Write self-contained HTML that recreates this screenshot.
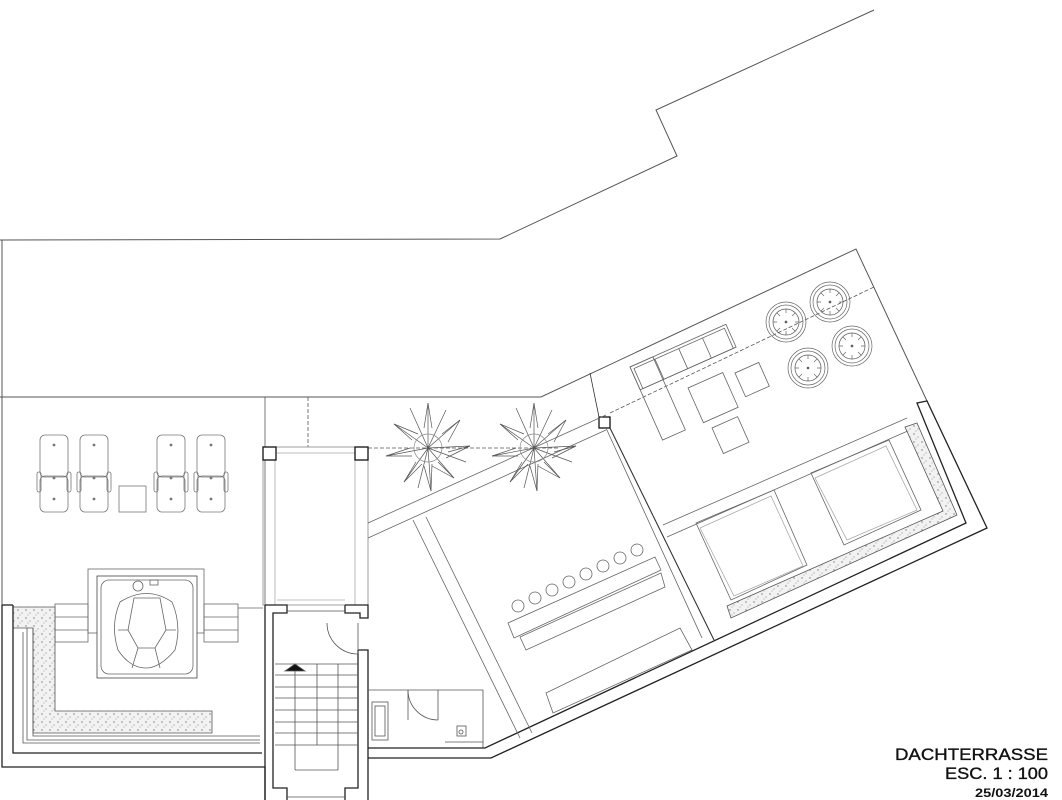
<!DOCTYPE html>
<html><head><meta charset="utf-8"><style>
html,body{margin:0;padding:0;background:#fff;width:1062px;height:800px;overflow:hidden}
svg{display:block}
text{font-family:"Liberation Sans",Arial,sans-serif;fill:#111}
</style></head><body>
<svg width="1062" height="800" viewBox="0 0 1062 800" xmlns="http://www.w3.org/2000/svg">
<defs>
<pattern id="grav" width="8" height="8" patternUnits="userSpaceOnUse">
<rect width="8" height="8" fill="#f2f2f2"/>
<circle cx="2" cy="2" r="0.7" fill="#777"/><circle cx="6" cy="5" r="0.6" fill="#999"/><circle cx="4" cy="7" r="0.5" fill="#888"/>
</pattern>
<g id="palm" stroke="#555" stroke-width="0.7" fill="none">
<path d="M0,0 L0,-45 M0,0 L32,-28 M0,0 L42,-2 M0,0 L26,30 M0,0 L3,43 M0,0 L-24,34 M0,0 L-42,8 M0,0 L-34,-24 M0,0 L-18,-40 M0,0 L18,-38 M0,0 L38,14 M0,0 L-10,40"/>
<path d="M-4,-20 L0,-45 L4,-20 M14,-14 L32,-28 L20,-6 M20,4 L42,-2 L18,10 M10,14 L26,30 L4,18 M-4,18 L3,43 L4,16 M-12,14 L-24,34 L-6,16 M-18,0 L-42,8 L-16,8 M-16,-8 L-34,-24 L-10,-14"/>
<circle r="14" stroke="#888"/>
</g>
<g id="plan" fill="none" stroke="#666" stroke-width="0.7">
<circle r="20"/><circle r="17"/><circle r="13" stroke="#555"/>
<path d="M0,-13 L0,-9 M9,-9 L6,-6 M13,0 L9,0 M9,9 L6,6 M0,13 L0,9 M-9,9 L-6,6 M-13,0 L-9,0 M-9,-9 L-6,-6"/>
<circle r="1" fill="#555"/>
</g>
<g id="lounger" fill="none" stroke="#777" stroke-width="0.8">
<rect x="0" y="0" width="28" height="42" rx="5"/>
<rect x="0" y="41" width="28" height="36" rx="5"/>
<rect x="-3" y="37" width="4" height="20" rx="2"/>
<rect x="27" y="37" width="4" height="20" rx="2"/>
<circle cx="14" cy="10" r="1" fill="#777"/><circle cx="14" cy="43" r="1" fill="#777"/><circle cx="14" cy="64" r="1" fill="#777"/>
</g>
</defs>

<g fill="none" stroke="#555" stroke-width="1">
<polyline points="0,240 500,239 677,156 656,110 874,10"/>
<polyline points="2,240 2,605"/>
<polyline points="0,397 541,397 856,249 927,401"/>
</g>

<g fill="none" stroke="#555" stroke-width="0.8">
<line x1="265" y1="397" x2="265" y2="605"/>
<line x1="308" y1="397" x2="308" y2="447" stroke-dasharray="4,2"/>
<line x1="368" y1="448" x2="560" y2="448" stroke-dasharray="4,2"/>
<line x1="610" y1="413" x2="874" y2="287" stroke-dasharray="4,2"/>
<rect x="263" y="447" width="105" height="158" stroke="#888"/>
<line x1="275" y1="460" x2="275" y2="605" stroke="#aaa"/>
<line x1="355" y1="460" x2="355" y2="605" stroke="#aaa"/>
<line x1="277" y1="453" x2="355" y2="453" stroke="#aaa"/>
<line x1="277" y1="600" x2="345" y2="600" stroke="#aaa"/>
</g>
<g fill="#fff" stroke="#111" stroke-width="1.3">
<rect x="263" y="447" width="13" height="13"/><rect x="355" y="447" width="13" height="13"/>
<rect x="599" y="417" width="11" height="11"/>
</g>

<use href="#lounger" x="40" y="435"/><use href="#lounger" x="80" y="435"/>
<use href="#lounger" x="157" y="435"/><use href="#lounger" x="197" y="435"/>
<rect x="119" y="486" width="27" height="26" fill="none" stroke="#777" stroke-width="0.8"/>

<g fill="none" stroke="#666" stroke-width="0.8">
<rect x="88" y="569" width="116" height="64"/>
<rect x="55" y="604" width="33" height="38"/><line x1="55" y1="617" x2="88" y2="617"/><line x1="55" y1="630" x2="88" y2="630"/>
<rect x="204" y="604" width="34" height="38"/><line x1="204" y1="617" x2="238" y2="617"/><line x1="204" y1="630" x2="238" y2="630"/>
<line x1="238" y1="608" x2="263" y2="608"/>
<rect x="97" y="576" width="100" height="102" fill="#fff" stroke="#444"/>
<rect x="101" y="580" width="92" height="94" rx="8"/>
<path d="M120,602 Q147,585 172,602 Q182,625 175,650 Q160,668 146,668 Q130,668 118,650 Q110,625 120,602Z"/>
<path d="M134,598 L160,598 L166,630 L155,648 L138,648 L128,630Z"/>
<path d="M118,630 L128,630 M166,630 L176,630 M138,648 L132,668 M155,648 L160,668"/>
<circle cx="138" cy="586" r="5"/><rect x="150" y="580" width="8" height="5"/>
</g>

<polygon points="13,607 55,607 55,711 212,711 212,733 33,733 33,628 13,628" fill="url(#grav)" stroke="#555" stroke-width="0.8"/>
<g fill="none" stroke="#222" stroke-width="1.3">
<polyline points="2,605 2,767 265,767 265,800"/>
<polyline points="13,605 13,753 262,753"/>
<line x1="2" y1="605" x2="13" y2="605"/>
</g>
<g fill="none" stroke="#555" stroke-width="0.8">
<polyline points="23,632 23,743 260,743"/>
<polyline points="27,628 27,740 260,740"/>
<polyline points="33,628 33,736 260,736"/>
</g>

<g fill="none" stroke="#222" stroke-width="1.3">
<polyline points="265,605 287,605 287,613 273,613 273,788 287,788 287,800"/>
<polyline points="265,800 265,605"/>
<polyline points="345,605 368,605 368,618 360,618 360,613 345,613 345,605"/>
<polyline points="358,650 368,650 368,800"/>
<polyline points="358,650 358,788 345,788 345,800"/>
</g>
<g fill="none" stroke="#555" stroke-width="0.8">
<line x1="287" y1="611" x2="345" y2="611"/>
<path d="M327,623 A31,31 0 0 0 358,654"/><line x1="358" y1="623" x2="358" y2="654"/>
<line x1="275" y1="664" x2="358" y2="664"/>
<line x1="275" y1="675" x2="358" y2="675"/><line x1="275" y1="687" x2="358" y2="687"/>
<line x1="275" y1="698" x2="358" y2="698"/><line x1="275" y1="710" x2="358" y2="710"/>
<line x1="275" y1="722" x2="358" y2="722"/><line x1="275" y1="733" x2="358" y2="733"/>
<line x1="275" y1="745" x2="358" y2="745"/>
<line x1="295" y1="664" x2="295" y2="770"/><line x1="317" y1="664" x2="317" y2="745"/>
<line x1="338" y1="664" x2="338" y2="770"/><line x1="295" y1="770" x2="338" y2="770"/>
<line x1="287" y1="797" x2="345" y2="797"/>
<polygon points="285,671 295,664 305,671" fill="#111"/>
</g>

<g fill="none" stroke="#555" stroke-width="0.8">
<polyline points="368,690 483,690 483,748"/>
<rect x="372" y="702" width="16" height="38"/><rect x="375" y="706" width="10" height="30"/>
<line x1="408" y1="690" x2="408" y2="720"/>
<path d="M408,690 A30,30 0 0 0 438,720"/><line x1="438" y1="690" x2="438" y2="720"/>
<rect x="457" y="726" width="9" height="10"/><circle cx="461" cy="732" r="2"/>
<line x1="445" y1="742" x2="483" y2="742"/>
</g>
<g fill="none" stroke="#222" stroke-width="1.3">
<polyline points="368,748 485,748 966,523 917,403 927,401 987,528 491,758 368,758"/>
</g>

<g fill="none" stroke="#666" stroke-width="0.8">
<line x1="368" y1="523" x2="606" y2="415"/>
<line x1="368" y1="538" x2="606" y2="430"/>
<line x1="663" y1="525" x2="907" y2="418"/>
<line x1="667" y1="537" x2="910" y2="430"/>
<line x1="413" y1="520" x2="520" y2="738"/>
<line x1="426" y1="517" x2="532" y2="733"/>
<line x1="606" y1="428" x2="702" y2="638"/>
<line x1="590" y1="373" x2="599" y2="417" stroke="#333"/>
<line x1="610" y1="428" x2="714" y2="640" stroke="#333" stroke-width="1.1"/>
</g>

<use href="#palm" x="428" y="448"/><use href="#palm" x="534" y="448"/>

<polygon points="905,427 917,423 957,515 731,618 727,606 943,511" fill="url(#grav)" stroke="#555" stroke-width="0.8"/>

<g fill="none" stroke="#666" stroke-width="0.8">
<g transform="translate(630,367) rotate(-24)">
<rect x="0" y="0" width="105" height="25"/>
<rect x="3" y="3" width="99" height="22"/>
<line x1="26" y1="3" x2="26" y2="25"/><line x1="52" y1="3" x2="52" y2="25"/><line x1="78" y1="3" x2="78" y2="25"/>
<rect x="0" y="0" width="25" height="80"/>
</g>
<g transform="translate(688,388) rotate(-24)"><rect width="38" height="38"/></g>
<g transform="translate(735,373) rotate(-24)"><rect width="26" height="26"/></g>
<g transform="translate(712,428) rotate(-24)"><rect width="28" height="28"/></g>
<polygon points="696,523 774,490 807,565 731,600"/>
<polygon points="700,528 771,496 803,566 734,596" stroke="#aaa"/>
<polygon points="811,473 889,440 921,510 844,545"/>
<polygon points="815,478 886,446 917,510 847,540" stroke="#aaa"/>
<polygon points="508,623 655,557 661,570 514,638"/>
<polygon points="520,637 661,573 665,587 526,650"/>
<polygon points="546,693 680,628 692,650 553,713"/>
<circle cx="518" cy="606" r="6"/><circle cx="535" cy="598" r="6"/><circle cx="552" cy="590" r="6"/>
<circle cx="569" cy="582" r="6"/><circle cx="586" cy="574" r="6"/><circle cx="603" cy="566" r="6"/>
<circle cx="620" cy="558" r="6"/><circle cx="637" cy="550" r="6"/>
</g>
<use href="#plan" x="786" y="322"/><use href="#plan" x="830" y="302"/>
<use href="#plan" x="852" y="346"/><use href="#plan" x="808" y="368"/>

<text x="895" y="760" font-size="17" textLength="153" lengthAdjust="spacingAndGlyphs" stroke="#111" stroke-width="0.35">DACHTERRASSE</text>
<text x="945" y="779" font-size="17" textLength="103" lengthAdjust="spacingAndGlyphs" stroke="#111" stroke-width="0.35">ESC. 1 : 100</text>
<text x="975" y="797" font-size="12" font-weight="bold" textLength="73" lengthAdjust="spacingAndGlyphs">25/03/2014</text>
</svg>
</body></html>
